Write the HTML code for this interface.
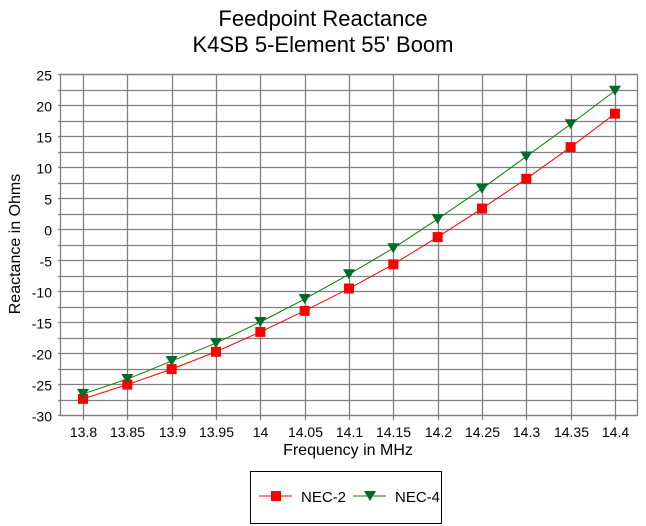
<!DOCTYPE html>
<html><head><style>body{margin:0;background:#fff}svg{display:block}</style></head>
<body>
<svg width="646" height="526" xmlns="http://www.w3.org/2000/svg" font-family="Liberation Sans, sans-serif">
<rect width="646" height="526" fill="#fff"/>
<text x="323" y="26" font-size="22" text-anchor="middle">Feedpoint Reactance</text>
<text x="323" y="52" font-size="22" text-anchor="middle">K4SB 5-Element 55' Boom</text>
<g id="grid" stroke="#808080" stroke-width="1.3" fill="none"></g>
<g id="lab" font-size="14" fill="#000"></g>
<text x="348" y="455" font-size="16" text-anchor="middle">Frequency in MHz</text>
<text transform="translate(20,244) rotate(-90)" font-size="16" text-anchor="middle">Reactance in Ohms</text>
<g id="ser"></g>
<rect x="250.5" y="471.5" width="191" height="52" fill="none" stroke="#000"/>
<line x1="259" y1="496" x2="292" y2="496" stroke="#f00"/>
<rect x="271" y="491" width="10" height="10" fill="#f00"/>
<text x="301" y="502" font-size="15">NEC-2</text>
<line x1="353" y1="496" x2="386" y2="496" stroke="#008000"/>
<polygon points="364,491 376,491 370,501" fill="#006a2a"/>
<text x="395" y="502" font-size="15">NEC-4</text>
</svg>
<script>
var L=60,R=637,T=74,B=415,ns="http://www.w3.org/2000/svg";
function yv(v){return B-(v+30)*(B-T)/55}
function xv(i){return 83+i*44.33}
function el(t,a,p){var e=document.createElementNS(ns,t);for(var k in a)e.setAttribute(k,a[k]);p.appendChild(e);return e}
var g=document.getElementById('grid'),lb=document.getElementById('lab'),s=document.getElementById('ser');
for(var v=-30;v<=25;v+=2.5){var y=Math.round(yv(v))+.5;el('line',{x1:L-2,x2:R,y1:y,y2:y},g);
 if(v%5==0){var t=el('text',{x:52,y:y+6,'text-anchor':'end'},lb);t.textContent=v;}}
var xs=['13.8','13.85','13.9','13.95','14','14.05','14.1','14.15','14.2','14.25','14.3','14.35','14.4'];
for(var i=0;i<13;i++){var x=Math.round(xv(i))+.5;el('line',{x1:x,x2:x,y1:T,y2:B+5},g);
 var t=el('text',{x:x,y:B+22,'text-anchor':'middle'},lb);t.textContent=xs[i];}
el('rect',{x:L+.5,y:T+.5,width:R-L,height:B-T},g);
var a=[-27.4,-25.1,-22.6,-19.8,-16.6,-13.2,-9.6,-5.7,-1.3,3.3,8.1,13.2,18.6];
var b=[-26.6,-24.2,-21.3,-18.4,-15.0,-11.3,-7.3,-3.1,1.6,6.5,11.7,16.9,22.3];
function pts(d){return d.map(function(v,i){return xv(i)+','+yv(v)}).join(' ')}
el('polyline',{points:pts(a),fill:'none',stroke:'#f00','stroke-width':1},s);
el('polyline',{points:pts(b),fill:'none',stroke:'#008000','stroke-width':1},s);
a.forEach(function(v,i){el('rect',{x:xv(i)-5,y:yv(v)-5,width:10,height:10,fill:'#f00'},s)});
b.forEach(function(v,i){var x=xv(i),y=yv(v);el('polygon',{points:(x-6)+','+(y-5)+' '+(x+6)+','+(y-5)+' '+x+','+(y+5),fill:'#006a2a'},s)});
</script>
</body></html>
